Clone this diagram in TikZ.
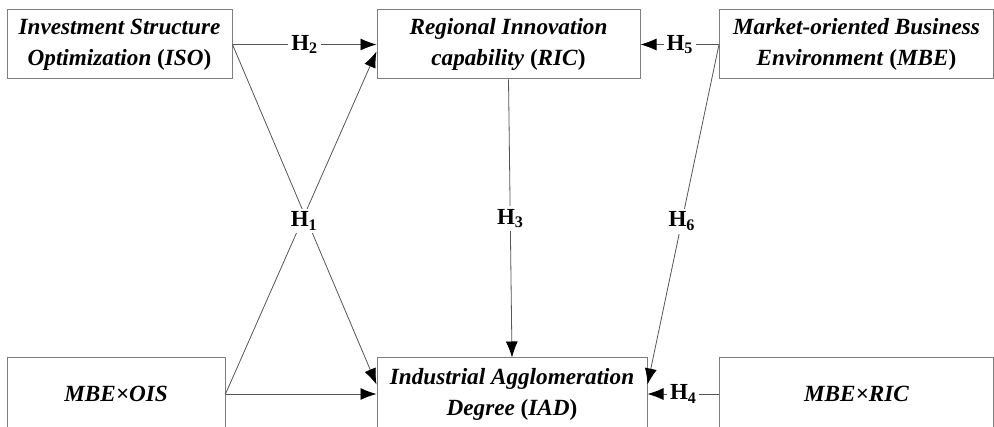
\documentclass[tikz,border=0pt]{standalone}
\usepackage{fontspec}
\setmainfont{Liberation Serif}
\usetikzlibrary{arrows.meta}
\definecolor{boxgray}{RGB}{125,125,125}
\definecolor{linegray}{RGB}{85,85,85}
\newcommand{\abbr}[1]{\textup{(}#1\textup{)}}

\tikzset{
  var/.style={draw=boxgray, line width=1pt, minimum height=69pt, align=center,
    font=\fontsize{23.2}{31}\selectfont\bfseries\itshape},
  hyp/.style={fill=white, inner sep=3pt, font=\fontsize{23}{25}\selectfont\bfseries},
  link/.style={draw=linegray, line width=.8pt, -{Latex[length=16pt,width=12pt,color=black]}}
}

\begin{document}
\begin{tikzpicture}[x=1pt,y=-1pt]
    \useasboundingbox (0,0) rectangle (994,427);
    % variables
    \node[var, minimum width=225pt] (iso) at (119.5,44.5) {Investment Structure\\Optimization \abbr{ISO}};
    \node[var, minimum width=263pt] (ric) at (508.5,44.5) {Regional Innovation\\capability \abbr{RIC}};
    \node[var, minimum width=274pt] (mbe) at (856.5,44.5) {Market-oriented Business\\Environment \abbr{MBE}};
    \node[var, minimum width=218pt, minimum height=72pt] (mo) at (116,394) {MBE×OIS};
    \node[var, minimum width=270pt, minimum height=72pt] (iad) at (512,394) {Industrial Agglomeration\\Degree \abbr{IAD}};
    \node[var, minimum width=274pt, minimum height=72pt] (mr) at (856.5,394) {MBE×RIC};

    % paths
    \draw[link] (iso.east) -- node[hyp] (h2) {H\textsubscript{2}} (ric.west);
    \draw[link] (iso.east) -- ([yshift=9.5pt]iad.west);
    \draw[link] (mo.east) -- ([yshift=-7pt]ric.west);
    \draw[link] (mo.east) -- (iad.west);
    \node[hyp] (h1) at (304,221) {H\textsubscript{1}};
    \draw[link] (ric.south) -- node[hyp] (h3) {H\textsubscript{3}} (iad.north);
    \draw[link] (mbe.west) -- node[hyp] (h5) {H\textsubscript{5}} (ric.east);
    \draw[link] (mbe.west) -- node[hyp, pos=.52] (h6) {H\textsubscript{6}} ([yshift=9.5pt]iad.east);
    \draw[link] (mr.west) -- node[hyp] (h4) {H\textsubscript{4}} (iad.east);
\end{tikzpicture}
\end{document}
